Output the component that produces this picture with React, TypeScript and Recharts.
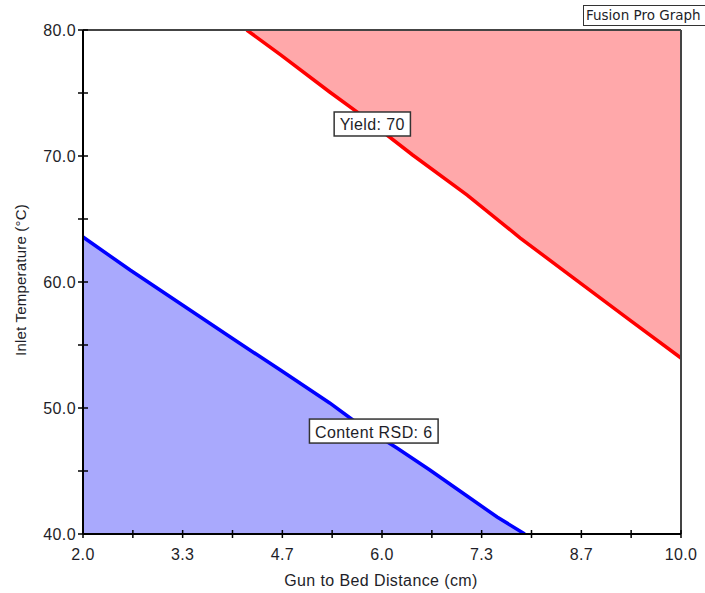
import React from 'react';
import { ComposedChart, Area, XAxis, YAxis, ReferenceLine, ReferenceDot } from 'recharts';

// Contour "Yield: 70" (region above/right is shaded)
const yieldX = [4.19, 4.64, 5.30, 5.71, 6.41, 7.14, 7.85, 8.56, 9.28, 10.0];
const yieldY = [80.0, 78.05, 75.08, 73.3, 70.08, 66.90, 63.49, 60.32, 57.14, 53.97];

// Contour "Content RSD: 6" (region below/left is shaded)
const rsdX = [2.0, 2.63, 3.30, 3.97, 4.64, 5.30, 5.61, 6.20, 6.64, 7.08, 7.54, 7.91];
const rsdY = [63.57, 60.95, 58.3, 55.63, 53.01, 50.40, 49.05, 46.82, 45.08, 43.25, 41.35, 40.0];

const xTicks = [2.0, 2.667, 3.333, 4.0, 4.667, 5.333, 6.0, 6.667, 7.333, 8.0, 8.667, 9.333, 10.0];
const xTickLabels = ['2.0', '', '3.3', '', '4.7', '', '6.0', '', '7.3', '', '8.7', '', '10.0'];
const yTicks = [40, 45, 50, 55, 60, 65, 70, 75, 80];
const yTickLabels = ['40.0', '', '50.0', '', '60.0', '', '70.0', '', '80.0'];

const labelText = ['Yield: 70', 'Content RSD: 6'];
const labelX = [5.87, 5.89];
const labelY = [72.54, 48.17];

const yieldData = yieldX.map((x, i) => ({ x, y: yieldY[i] }));
const rsdData = rsdX.map((x, i) => ({ x, y: rsdY[i] }));

const FONT = '"Liberation Sans", Arial, sans-serif';
const TXT = '#1e1e28';

function nearestIndex(arr: number[], v: number) {
  let best = 0;
  for (let i = 1; i < arr.length; i++) if (Math.abs(arr[i] - v) < Math.abs(arr[best] - v)) best = i;
  return best;
}

const XTick = (props: any) => {
  const { x, y, payload } = props;
  const lbl = xTickLabels[nearestIndex(xTicks, payload.value)];
  return (
    <g>
      <line x1={x} x2={x} y1={y - 4} y2={y + 4} stroke="#000" strokeWidth={1.5} />
      {lbl ? (
        <text x={x} y={y + 20} textAnchor="middle" dominantBaseline="central" fontFamily={FONT} fontSize={16} letterSpacing={0.4} fill={TXT}>
          {lbl}
        </text>
      ) : null}
    </g>
  );
};

const YTick = (props: any) => {
  const { x, y, payload } = props;
  const lbl = yTickLabels[nearestIndex(yTicks, payload.value)];
  return (
    <g>
      <line x1={x - 5} x2={x + 5} y1={y} y2={y} stroke="#000" strokeWidth={1.5} />
      {lbl ? (
        <text x={x - 7} y={y} textAnchor="end" dominantBaseline="central" fontFamily={FONT} fontSize={16} letterSpacing={0.4} fill={TXT}>
          {lbl}
        </text>
      ) : null}
    </g>
  );
};

function measure(text: string) {
  try {
    const c = document.createElement('canvas').getContext('2d');
    if (c) {
      c.font = `16px ${FONT}`;
      return c.measureText(text).width + text.length * 0.4;
    }
  } catch (e) {}
  return text.length * 8.3;
}

const makeLabelShape = (text: string) => (props: any) => {
  const { cx, cy } = props;
  const w = measure(text) + 11;
  const h = 24;
  return (
    <g>
      <rect x={cx - w / 2} y={cy - h / 2} width={w} height={h} fill="#fff" stroke="#333" strokeWidth={1.5} />
      <text x={cx} y={cy + 1} textAnchor="middle" dominantBaseline="central" fontFamily={FONT} fontSize={16} letterSpacing={0.4} fill={TXT}>
        {text}
      </text>
    </g>
  );
};

export default function App() {
  return (
    <div style={{ position: 'absolute', left: 0, top: 0, width: 705, height: 593, overflow: 'hidden', background: '#fff' }}>
      <ComposedChart width={705} height={593} margin={{ top: 30, right: 24, bottom: 10, left: 20 }}>
        <XAxis
          dataKey="x"
          type="number"
          domain={[2, 10]}
          ticks={xTicks}
          interval={0}
          allowDataOverflow
          height={49}
          tickSize={0}
          tickMargin={0}
          tickLine={false}
          axisLine={{ stroke: '#000', strokeWidth: 2 }}
          tick={<XTick />}
        />
        <YAxis
          type="number"
          domain={[40, 80]}
          ticks={yTicks}
          interval={0}
          allowDataOverflow
          width={63}
          tickSize={0}
          tickMargin={0}
          tickLine={false}
          axisLine={{ stroke: '#000', strokeWidth: 2 }}
          tick={<YTick />}
        />
        <Area
          data={yieldData}
          dataKey="y"
          type="linear"
          baseValue={80}
          stroke="#ff0000"
          strokeWidth={3.5}
          fill="#ffa8aa"
          fillOpacity={1}
          isAnimationActive={false}
          dot={false}
          activeDot={false}
        />
        <Area
          data={rsdData}
          dataKey="y"
          type="linear"
          baseValue={40}
          stroke="#0000ff"
          strokeWidth={3.5}
          fill="#a9a9fd"
          fillOpacity={1}
          isAnimationActive={false}
          dot={false}
          activeDot={false}
        />
        <ReferenceLine y={80} stroke="#444" strokeWidth={2} />
        <ReferenceLine x={10} stroke="#444" strokeWidth={2} />
        {labelText.map((t, i) => (
          <ReferenceDot key={t} x={labelX[i]} y={labelY[i]} r={1} shape={makeLabelShape(t)} />
        ))}
      </ComposedChart>
      <svg width={705} height={593} style={{ position: 'absolute', left: 0, top: 0, pointerEvents: 'none' }}>
        <text x={381} y={586} textAnchor="middle" fontFamily={FONT} fontSize={16} letterSpacing={0.4} fill={TXT}>
          Gun to Bed Distance (cm)
        </text>
        <text x={26} y={280} textAnchor="middle" fontFamily={FONT} fontSize={15} letterSpacing={0.2} fill={TXT} transform="rotate(-90, 26, 280)">
          Inlet Temperature (°C)
        </text>
      </svg>
      <div
        style={{
          position: 'absolute',
          left: 583,
          top: 5,
          width: 140,
          height: 19,
          border: '1.5px solid #333',
          background: '#fff',
          fontFamily: '"DejaVu Sans", Verdana, sans-serif',
          fontSize: 13.5,
          lineHeight: '19px',
          paddingLeft: 2,
          color: TXT,
          whiteSpace: 'nowrap',
        }}
      >
        Fusion Pro Graph
      </div>
    </div>
  );
}
